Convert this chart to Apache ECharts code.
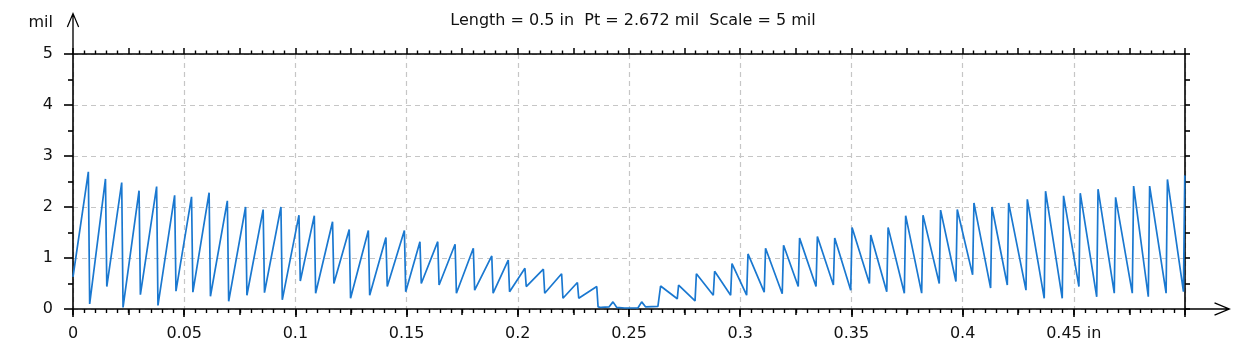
<!DOCTYPE html>
<html><head><meta charset="utf-8">
<script src="https://cdn.jsdelivr.net/npm/echarts@6/dist/echarts.min.js"></script>
<style>html,body{margin:0;padding:0;background:#fff;}#c{width:1246px;height:361px;}</style>
</head><body><div id="c"></div>
<script>
// ---- text ----
const titleText = 'Length = 0.5 in  Pt = 2.672 mil  Scale = 5 mil';
const yUnit = 'mil';
const xTickLabels = ['0','0.05','0.1','0.15','0.2','0.25','0.3','0.35','0.4','0.45 in',''];
const yTickLabels = ['0','1','2','3','4','5'];

// ---- profile data (in, mil) ----
const startY = 0.63;
// left half: ramp up to peak, then sharp drop to valley
const leftPeakX = [0.0069,0.0146,0.0219,0.0297,0.0376,0.0457,0.0533,0.0612,0.0694,0.0776,0.0855,0.0935,0.1016,0.1085,0.1167,0.1242,0.1328,0.1407,0.1490,0.1560,0.1640,0.1718,0.1800,0.1883,0.1957,0.2032,0.2115,0.2197,0.2268,0.2355];
const leftPeakY = [2.69,2.55,2.48,2.32,2.40,2.23,2.20,2.28,2.12,2.00,1.95,2.00,1.84,1.83,1.71,1.56,1.54,1.40,1.54,1.32,1.32,1.27,1.19,1.04,0.96,0.80,0.78,0.69,0.52,0.44];
const leftValleyY = [0.10,0.44,0.03,0.28,0.07,0.35,0.33,0.25,0.15,0.27,0.32,0.18,0.55,0.31,0.50,0.21,0.27,0.44,0.34,0.50,0.47,0.31,0.37,0.31,0.34,0.44,0.31,0.21,0.21,0.04];
// middle flat part
const centerX = [0.2375,0.2410,0.2428,0.2445,0.2480,0.2540,0.2557,0.2575,0.2630];
const centerY = [0.03,0.04,0.14,0.03,0.02,0.02,0.14,0.04,0.05];
// right half: sharp rise from valley to peak, then ramp down
const rightRiseX = [0.2636,0.2717,0.2797,0.2879,0.2957,0.3029,0.3108,0.3189,0.3261,0.3341,0.3419,0.3497,0.3581,0.3659,0.3738,0.3816,0.3895,0.3970,0.4045,0.4126,0.4201,0.4285,0.4367,0.4448,0.4523,0.4603,0.4682,0.4763,0.4835,0.4915,0.4993];
const rightValleyY = [0.05,0.20,0.16,0.27,0.27,0.27,0.33,0.30,0.44,0.44,0.47,0.37,0.50,0.34,0.31,0.31,0.50,0.54,0.67,0.41,0.47,0.37,0.21,0.21,0.44,0.24,0.31,0.31,0.24,0.31,0.34];
const rightPeakY = [0.45,0.47,0.69,0.74,0.89,1.08,1.19,1.25,1.39,1.42,1.39,1.60,1.45,1.60,1.83,1.84,1.94,1.95,2.08,2.00,2.08,2.15,2.31,2.22,2.27,2.35,2.19,2.41,2.41,2.54,2.62];

const edgeW = 0.0006; // width of the steep flank
const pts = [[0, startY]];
leftPeakX.forEach((x, i) => { pts.push([x, leftPeakY[i]]); pts.push([x + edgeW, leftValleyY[i]]); });
centerX.forEach((x, i) => pts.push([x, centerY[i]]));
rightRiseX.forEach((x, i) => { pts.push([x, rightValleyY[i]]); pts.push([x + edgeW, rightPeakY[i]]); });

// ---- styling ----
const FONT = 'DejaVu Sans';
const BLACK = '#000';
const upArrow = 'path://M7,0 L13.5,15.5 L12.3,16 L7,3.2 L1.7,16 L0.5,15.5 Z M6.3,2 L7.7,2 L7.7,44 L6.3,44 Z';
const gridLine = { show: true, lineStyle: { color: '#c6c6c6', width: 1.2, type: [5, 4] } };

const chart = echarts.init(document.getElementById('c'), null, { renderer: 'canvas' });
chart.setOption({
  animation: false,
  backgroundColor: '#fff',
  title: { text: titleText, left: 628, textAlign: 'center', top: 8, textStyle: { fontFamily: FONT, fontSize: 16, fontWeight: 'normal', color: '#111' } },
  grid: { left: 73, top: 54, width: 1112, height: 255, outerBoundsMode: 'none', containLabel: false },
  xAxis: [
    { type: 'value', min: 0, max: 0.5, interval: 0.05, position: 'bottom',
      axisLine: { show: true, onZero: false, symbol: ['none', upArrow], symbolSize: [14, 46], symbolOffset: [0, 23], lineStyle: { color: BLACK, width: 1.6 } },
      axisTick: { show: true, length: 8, lineStyle: { color: BLACK, width: 1.6 } },
      minorTick: { show: true, splitNumber: 10, length: 4, lineStyle: { color: BLACK, width: 1.4 } },
      axisLabel: { margin: 17, fontFamily: FONT, fontSize: 16, color: '#111', formatter: v => xTickLabels[Math.round(v / 0.05)] ?? '' },
      splitLine: gridLine },
    { type: 'value', min: 0, max: 0.5, interval: 0.025, position: 'top',
      axisLine: { show: true, onZero: false, lineStyle: { color: BLACK, width: 1.6 } },
      axisTick: { show: true, length: 6, lineStyle: { color: BLACK, width: 1.5 } },
      minorTick: { show: true, splitNumber: 5, length: 3.5, lineStyle: { color: BLACK, width: 1.4 } },
      axisLabel: { show: false }, splitLine: { show: false } },
    { type: 'value', min: 0, max: 0.5, interval: 0.025, position: 'bottom',
      axisLine: { show: false, onZero: false },
      axisTick: { show: true, length: 6, lineStyle: { color: BLACK, width: 1.5 } },
      axisLabel: { show: false }, splitLine: { show: false } }
  ],
  yAxis: [
    { type: 'value', min: 0, max: 5, interval: 1, position: 'left',
      name: yUnit, nameLocation: 'end', nameGap: 23,
      nameTextStyle: { fontFamily: FONT, fontSize: 16, color: '#111', align: 'right', padding: [0, 20, 0, 0] },
      axisLine: { show: true, onZero: false, symbol: ['none', upArrow], symbolSize: [14, 42], symbolOffset: [0, 21], lineStyle: { color: BLACK, width: 1.6 } },
      axisTick: { show: true, length: 9, lineStyle: { color: BLACK, width: 1.6 } },
      minorTick: { show: true, splitNumber: 2, length: 5, lineStyle: { color: BLACK, width: 1.6 } },
      axisLabel: { margin: 20, fontFamily: FONT, fontSize: 16, color: '#111', formatter: v => yTickLabels[Math.round(v)] ?? '' },
      splitLine: gridLine },
    { type: 'value', min: 0, max: 5, interval: 0.5, position: 'right',
      axisLine: { show: true, onZero: false, lineStyle: { color: BLACK, width: 1.6 } },
      axisTick: { show: true, length: 5, lineStyle: { color: BLACK, width: 1.6 } },
      axisLabel: { show: false }, splitLine: { show: false } }
  ],
  series: [{
    type: 'line', xAxisIndex: 0, yAxisIndex: 0, data: pts,
    showSymbol: false, symbol: 'none',
    lineStyle: { color: '#1a78d0', width: 1.7 }
  }]
});
</script></body></html>
